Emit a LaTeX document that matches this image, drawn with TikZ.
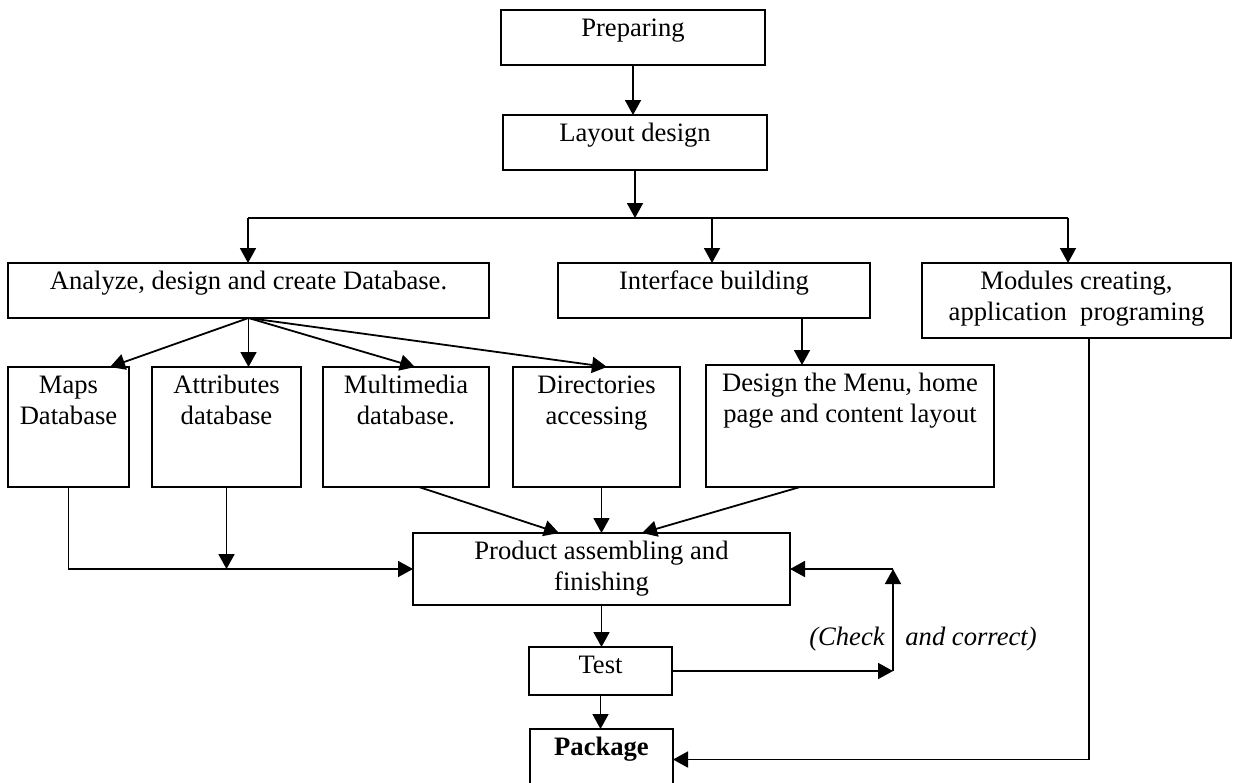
\documentclass[tikz,border=0pt]{standalone}
\usepackage{fontspec}
\setmainfont{Liberation Serif}
\usetikzlibrary{arrows.meta,calc}
\newdimen\unitpx \unitpx=0.5pt
\newcommand\bxt[3]{\parbox[c][#2\unitpx][t]{#1\unitpx}{\centering\rule{0pt}{13.3pt}#3}}
\begin{document}
\begin{tikzpicture}[x=0.5pt,y=-0.5pt,
  every node/.style={font=\fontsize{13.3}{15.5}\selectfont},
  box/.style={draw, line width=1pt, inner sep=0pt, outer sep=0pt},
  conn/.style={line width=0.9pt},
  arr/.style={line width=0.9pt, -{Triangle[length=7.5pt,width=8pt]}},
  lbl/.style={font=\fontsize{13.3}{15.5}\selectfont\itshape, inner sep=0pt}]
\path[use as bounding box, clip] (0,0) rectangle (1234,782);
% boxes
\node[box] (prep) at (633,37.5) {\bxt{264}{55}{Preparing}};
\node[box] (layout) at (635,142.5) {\bxt{264}{55}{Layout design}};
\node[box] (analyze) at (248.5,290.5) {\bxt{481}{55}{Analyze, design and create Database.}};
\node[box] (iface) at (714,290.5) {\bxt{312}{55}{Interface building}};
\node[box] (modules) at (1076.5,300.5) {\bxt{309}{75}{Modules creating,\\application\ \ programing}};
\node[box] (maps) at (68.5,427) {\bxt{121}{120}{Maps\\Database}};
\node[box] (attr) at (226.5,427) {\bxt{149}{120}{Attributes\\database}};
\node[box] (multi) at (406,427) {\bxt{166}{120}{Multimedia\\database.}};
\node[box] (dirs) at (596.5,427) {\bxt{167}{120}{Directories\\accessing}};
\node[box] (design) at (850,426) {\bxt{288}{122}{Design the Menu, home\\page and content layout}};
\node[box] (product) at (601.5,569) {\bxt{377}{72}{Product assembling and\\finishing}};
\node[box] (test) at (600.5,671) {\bxt{143}{48}{Test}};
\node[box] (package) at (601.5,759.5) {\bxt{143}{61}{\textbf{Package}}};
% labels
\node[lbl, anchor=base east] (chk) at (885,645) {(Check};
\node[lbl, anchor=base west] (cor) at (905,645) {and correct)};
% top connectors
\draw[arr] (prep.south) -- (prep.south |- layout.north);
\coordinate (ja) at (248,218);
\coordinate (ji) at (712,218);
\coordinate (jm) at (1068,218);
\draw[arr] (layout.south) -- (layout.south |- ja);
\draw[conn] (ja) -- (jm);
\draw[arr] (ja) -- (ja |- analyze.north);
\draw[arr] (ji) -- (ji |- iface.north);
\draw[arr] (jm) -- (jm |- modules.north);
% fan out of database
\draw[arr] (analyze.south) -- ($(maps.north)+(41.5,0)$);
\draw[arr] (analyze.south) -- (analyze.south |- attr.north);
\draw[arr] (analyze.south) -- ($(multi.north)+(9,0)$);
\draw[arr] (analyze.south) -- ($(dirs.north)+(10.5,0)$);
\coordinate (ib) at ($(iface.south)+(88,0)$);
\draw[arr] (ib) -- (ib |- design.north);
% into product
\draw[arr] (maps.south) |- (product.west);
\draw[arr] (attr.south) -- (attr.south |- product.west);
\draw[arr] ($(multi.south)+(13,0)$) -- ($(product.north)+(-42.5,0)$);
\draw[arr] (dirs.south -| product.north) -- (product.north);
\draw[arr] ($(design.south)+(-50,0)$) -- ($(product.north)+(40.5,0)$);
% bottom chain
\draw[arr] (product.south) -- (product.south |- test.north);
\draw[arr] (test.south) -- (test.south |- package.north);
\coordinate (fb) at (893,569);
\coordinate (fa) at (test.east -| fb);
\draw[arr] (test.east) -- (fa);
\draw[arr] (fa) -- (fb);
\draw[arr] (fb) -- (product.east);
\draw[arr] ($(modules.south)+(12.5,0)$) |- (package.east);
\end{tikzpicture}
\end{document}
